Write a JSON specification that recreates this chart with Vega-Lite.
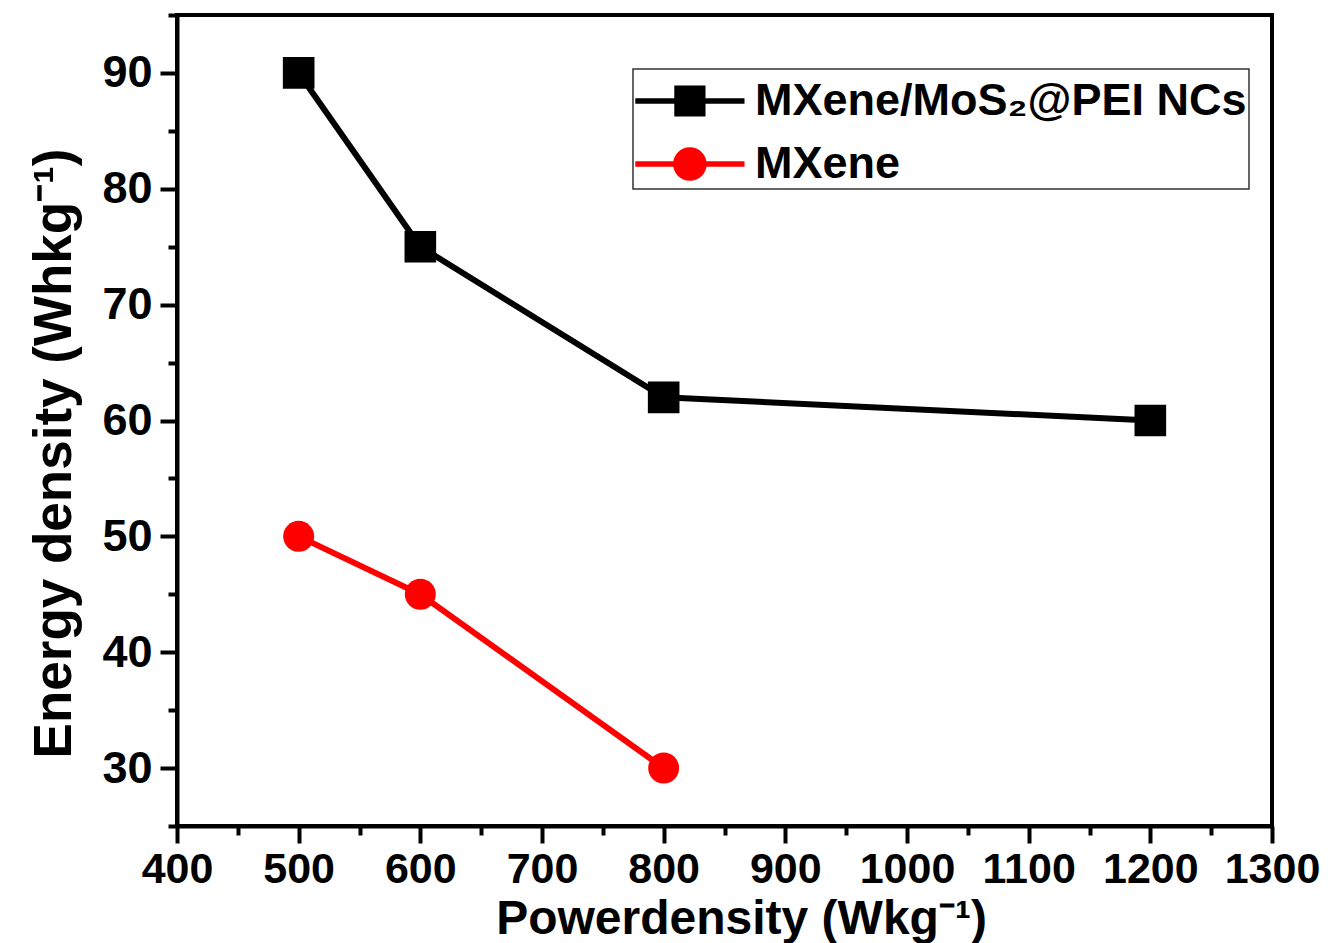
{
  "$schema": "https://vega.github.io/schema/vega-lite/v6.json",
  "width": 1095,
  "height": 811,
  "autosize": {"type": "none"},
  "padding": {"left": 177, "top": 15, "right": 56, "bottom": 117},
  "background": "white",
  "config": {
    "view": {"stroke": "#000000", "strokeWidth": 4},
    "font": "Liberation Sans",
    "axis": {"labelFont": "Liberation Sans", "titleFont": "Liberation Sans", "labelColor": "#000000", "titleColor": "#000000"},
    "legend": {"labelFont": "Liberation Sans"}
  },
  "data": {
    "values": [
      {"series": "MXene/MoS₂@PEI NCs", "power": 500, "energy": 90},
      {"series": "MXene/MoS₂@PEI NCs", "power": 600, "energy": 75},
      {"series": "MXene/MoS₂@PEI NCs", "power": 800, "energy": 62},
      {"series": "MXene/MoS₂@PEI NCs", "power": 1200, "energy": 60},
      {"series": "MXene", "power": 500, "energy": 50},
      {"series": "MXene", "power": 600, "energy": 45},
      {"series": "MXene", "power": 800, "energy": 30}
    ]
  },
  "resolve": {"axis": {"x": "independent", "y": "independent"}},
  "layer": [
    {
      "mark": {"type": "line", "strokeWidth": 6},
      "encoding": {
        "x": {
          "field": "power", "type": "quantitative",
          "scale": {"domain": [400, 1300], "nice": false, "zero": false},
          "axis": {
            "orient": "bottom",
            "values": [400, 500, 600, 700, 800, 900, 1000, 1100, 1200, 1300],
            "format": "d",
            "grid": false, "domain": true, "domainColor": "#000000", "domainWidth": 4,
            "ticks": true, "tickColor": "#000000", "tickWidth": 4, "tickSize": 17,
            "labelFontSize": 43, "labelFontWeight": "bold", "labelPadding": 5, "labelFlush": false, "labelOverlap": false,
            "title": "Powerdensity (Wkg⁻¹)", "titleFontSize": 48, "titleFontWeight": "bold", "titlePadding": 4,
            "titleX": 564
          }
        },
        "y": {
          "field": "energy", "type": "quantitative",
          "scale": {"domain": [25, 95], "nice": false, "zero": false},
          "axis": {
            "orient": "left",
            "values": [30, 40, 50, 60, 70, 80, 90],
            "format": "d",
            "grid": false, "domain": true, "domainColor": "#000000", "domainWidth": 4,
            "ticks": true, "tickColor": "#000000", "tickWidth": 4, "tickSize": 17,
            "labelFontSize": 45, "labelFontWeight": "bold", "labelPadding": 8, "labelFlush": false, "labelOverlap": false,
            "title": "Energy density (Whkg⁻¹)", "titleFontSize": 53, "titleFontWeight": "bold", "titlePadding": 20,
            "titleY": 438
          }
        },
        "stroke": {
          "field": "series", "type": "nominal",
          "scale": {"domain": ["MXene", "MXene/MoS₂@PEI NCs"], "range": ["#ff0000", "#000000"]},
          "legend": null
        }
      }
    },
    {
      "transform": [{"filter": "datum.series !== 'MXene'"}],
      "mark": {"type": "point", "shape": "square", "filled": true, "opacity": 1, "color": "#000000", "size": 1000},
      "encoding": {
        "x": {
          "field": "power", "type": "quantitative",
          "axis": {
            "orient": "bottom",
            "values": [450, 550, 650, 750, 850, 950, 1050, 1150, 1250],
            "grid": false, "domain": false, "labels": false, "title": null,
            "ticks": true, "tickColor": "#000000", "tickWidth": 4, "tickSize": 9
          }
        },
        "y": {
          "field": "energy", "type": "quantitative",
          "axis": {
            "orient": "left",
            "values": [25, 35, 45, 55, 65, 75, 85, 95],
            "grid": false, "domain": false, "labels": false, "title": null,
            "ticks": true, "tickColor": "#000000", "tickWidth": 4, "tickSize": 9
          }
        }
      }
    },
    {
      "transform": [{"filter": "datum.series === 'MXene'"}],
      "mark": {"type": "point", "shape": "circle", "filled": true, "opacity": 1, "color": "#ff0000", "size": 960},
      "encoding": {
        "x": {"field": "power", "type": "quantitative", "axis": null},
        "y": {"field": "energy", "type": "quantitative", "axis": null}
      }
    },
    {
      "mark": {"type": "point", "filled": true, "opacity": 1, "size": 0},
      "encoding": {
        "x": {"field": "power", "type": "quantitative", "axis": null},
        "y": {"field": "energy", "type": "quantitative", "axis": null},
        "color": {
          "field": "series", "type": "nominal",
          "scale": {"domain": ["MXene/MoS₂@PEI NCs", "MXene"], "range": ["#000000", "#ff0000"]},
          "legend": {
            "title": null,
            "orient": "none",
            "legendX": 456,
            "legendY": 54,
            "direction": "vertical",
            "padding": 2,
            "strokeColor": "#333333",
            "fillColor": "#ffffff",
            "symbolSize": 3600,
            "symbolStrokeWidth": 0,
            "symbolOpacity": 1,
            "rowPadding": 10,
            "labelOffset": 60,
            "labelFontSize": 45,
            "labelFontWeight": "bold",
            "labelColor": "#000000",
            "labelLimit": 700,
            "encode": {"legend": {"update": {"strokeWidth": {"value": 1.5}}}}
          }
        },
        "shape": {
          "field": "series", "type": "nominal",
          "scale": {
            "domain": ["MXene/MoS₂@PEI NCs", "MXene"],
            "range": [
              "M-0.99,-0.09H2.65V0.09H-0.99Z M0.31,-0.52H1.35V0.52H0.31Z",
              "M-0.99,-0.09H2.65V0.09H-0.99Z M0.27,0A0.56,0.56 0 1,1 1.39,0A0.56,0.56 0 1,1 0.27,0Z"
            ]
          },
          "legend": {
            "title": null,
            "orient": "none",
            "legendX": 456,
            "legendY": 54,
            "direction": "vertical",
            "padding": 2,
            "strokeColor": "#333333",
            "fillColor": "#ffffff",
            "symbolSize": 3600,
            "symbolStrokeWidth": 0,
            "symbolOpacity": 1,
            "rowPadding": 10,
            "labelOffset": 60,
            "labelFontSize": 45,
            "labelFontWeight": "bold",
            "labelColor": "#000000",
            "labelLimit": 700,
            "encode": {"legend": {"update": {"strokeWidth": {"value": 1.5}}}}
          }
        }
      }
    }
  ]
}
